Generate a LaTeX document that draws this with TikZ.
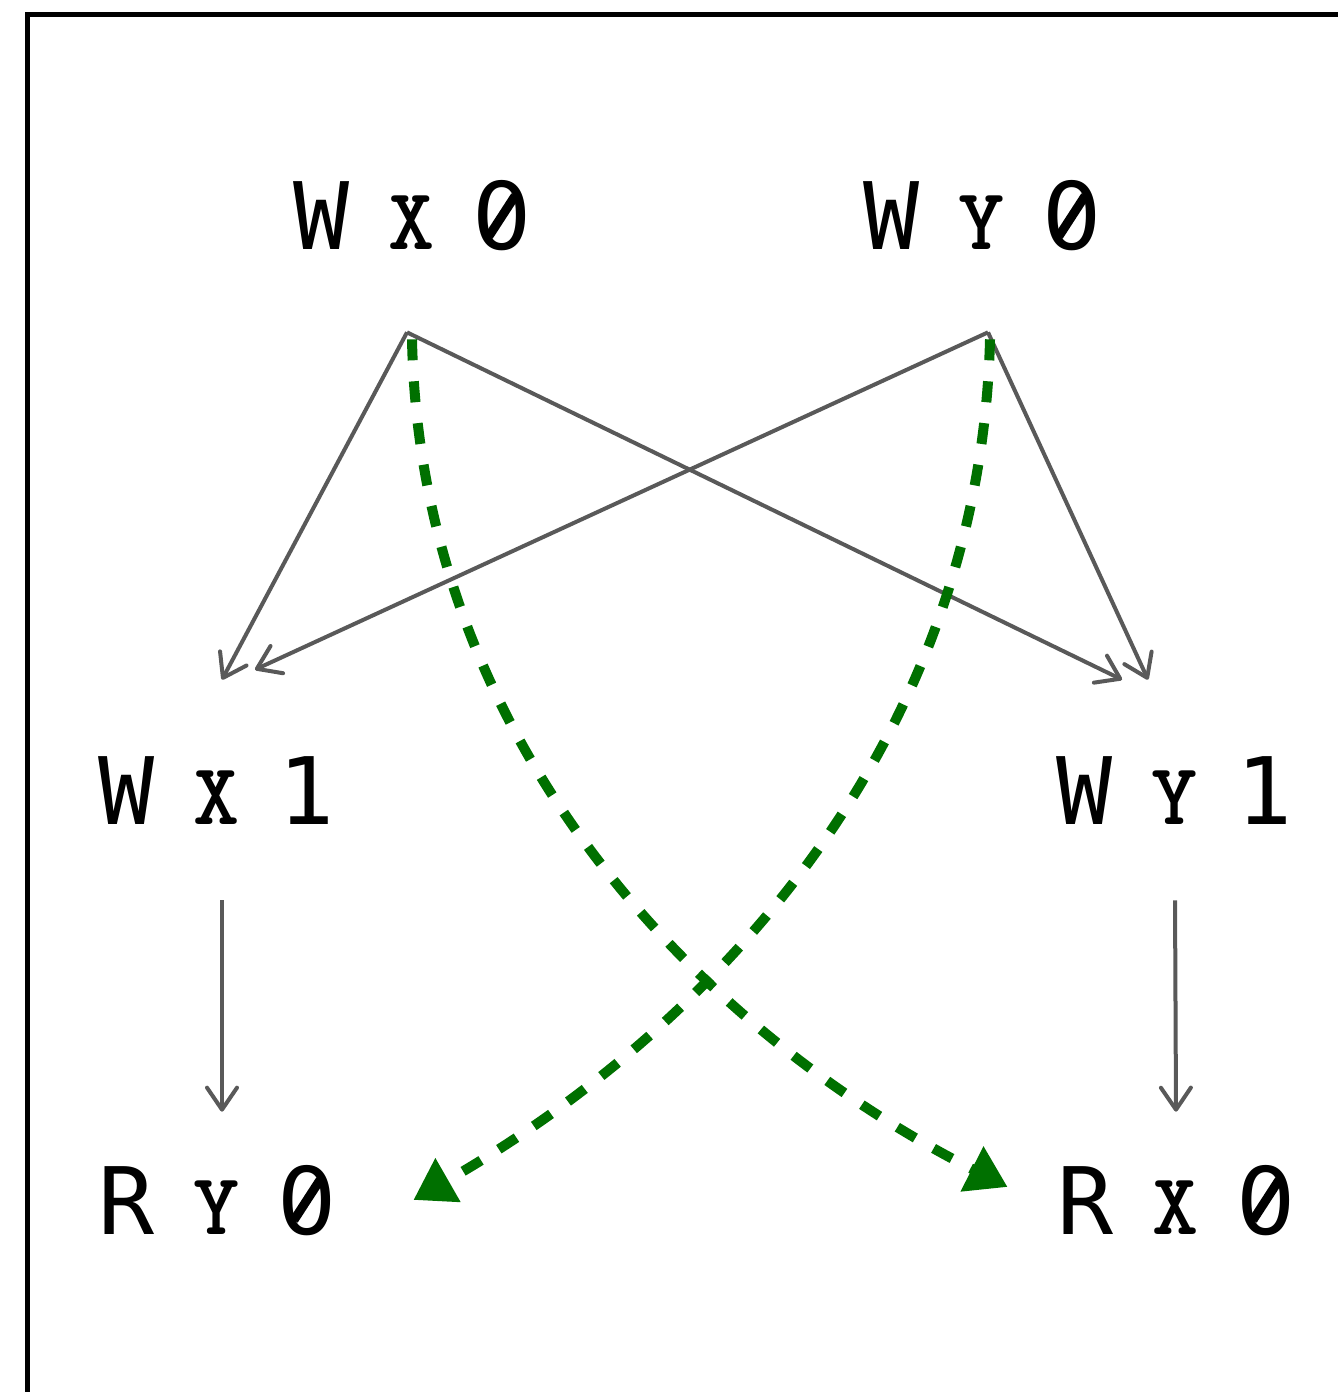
\documentclass[tikz,border=0pt]{standalone}
\usepackage{fontspec}
\usepackage{graphicx}
\usepackage{tikz}
\usetikzlibrary{arrows.meta}
\newfontfamily\moglyph{DejaVu Sans Mono}
\newfontfamily\mosans{DejaVu Sans}
\definecolor{mogray}{RGB}{89,89,89}
\definecolor{mogreen}{RGB}{0,112,0}
% slashed zero
\newcommand{\mozero}{%
  \makebox[0pt]{\mosans\fontsize{53}{53}\selectfont 0}%
  \makebox[0pt]{\raisebox{0.68cm}{\rotatebox[origin=c]{57}{\rule[-0.09cm]{0.96cm}{0.18cm}}}}}
\newcommand{\moev}[3]{%
  \makebox[1.8cm]{\moglyph\fontsize{53}{53}\selectfont #1}%
  \makebox[1.8cm]{\ttfamily\bfseries\fontsize{50}{50}\selectfont #2}%
  \makebox[1.8cm]{\moglyph\fontsize{53}{53}\selectfont #3}}
\tikzset{
  moevent/.style={inner xsep=0.9cm, inner ysep=0pt, minimum height=4.4cm, text height=1.36cm, text depth=0pt},
  moarr/.style={-{Straight Barb[length=0.44cm, width=0.6cm, round]}, line width=0.08cm, draw=mogray},
  modash/.style={-{Triangle[length=0.8cm, width=0.96cm]}, line width=0.2cm, dash pattern=on 0.42cm off 0.42cm, draw=mogreen},
  moframe/.style={line width=0.085cm, draw=black}
}
\begin{document}
\begin{tikzpicture}
  \useasboundingbox (0,0) rectangle (26.76,-27.84);
  \draw[moframe] (0.55,-27.84) |- (26.76,-0.29);
  % events
  \node[moevent] (wx0) at (8.24,-4.32) {\moev{W}{X}{\mozero}};
  \node[moevent] (wy0) at (19.64,-4.32) {\moev{W}{Y}{\mozero}};
  \node[moevent] (wx1) at (4.34,-15.8) {\moev{W}{X}{1}};
  \node[moevent] (wy1) at (23.5,-15.8) {\moev{W}{Y}{1}};
  \node[moevent] (ry0) at (4.34,-24.0) {\moev{R}{Y}{\mozero}};
  \node[moevent] (rx0) at (23.52,-24.0) {\moev{R}{X}{\mozero}};
  % program order
  \draw[moarr] ([xshift=-0.1cm, yshift=-0.12cm]wx0.south) -- ([xshift=0.1cm]wx1.north);
  \draw[moarr] ([xshift=-0.1cm, yshift=-0.12cm]wx0.south) -- ([xshift=-1.06cm]wy1.north);
  \draw[moarr] ([xshift=0.12cm, yshift=-0.12cm]wy0.south) -- ([xshift=0.76cm, yshift=0.2cm]wx1.north);
  \draw[moarr] ([xshift=0.12cm, yshift=-0.12cm]wy0.south) -- ([xshift=-0.54cm]wy1.north);
  \draw[moarr] ([xshift=0.1cm]wx1.south) -- ([xshift=0.1cm, yshift=-0.44cm]ry0.north);
  \draw[moarr] (wy1.south) -- ([yshift=-0.44cm]rx0.north);
  % reads-from
  \draw[modash] ([yshift=-0.26cm]wx0.south) .. controls +(0.16,-8) and +(-6.24,3.16) .. ([xshift=0.24cm, yshift=0.26cm]rx0.west);
  \draw[modash] ([xshift=0.16cm, yshift=-0.26cm]wy0.south) .. controls +(-0.2,-8) and +(6.1,3.5) .. ([xshift=0.32cm]ry0.east);
\end{tikzpicture}
\end{document}
